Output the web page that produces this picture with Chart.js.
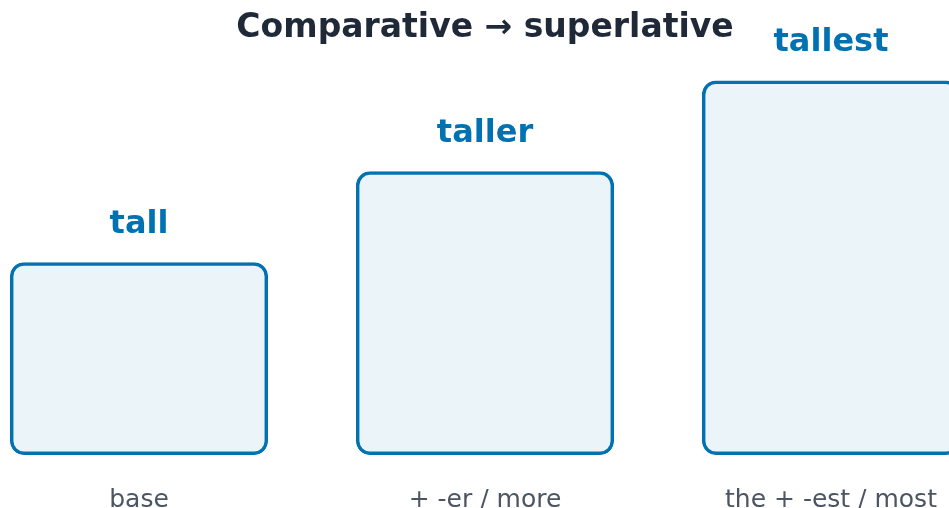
<!DOCTYPE html>
<html>
<head>
<meta charset="utf-8">
<script src="https://cdn.jsdelivr.net/npm/chart.js@4/dist/chart.umd.min.js"></script>
<style>
  html, body { margin: 0; padding: 0; background: #fff; overflow: hidden; }
  #wrap { position: absolute; left: -34px; top: 0; width: 1038px; height: 537px; }
</style>
</head>
<body>
<div id="wrap"><canvas id="formsChart"></canvas></div>
<script>
// word forms and their bar heights
const forms = ['tall', 'taller', 'tallest'];
const rules = ['base', '+ -er / more', 'the + -est / most'];
const heights = [2.12, 3.12, 4.12];

const blue = '#0072B2';
const font = "'DejaVu Sans', sans-serif";

// word above each bar
const formLabels = {
  id: 'formLabels',
  afterDatasetsDraw(chart) {
    const ctx = chart.ctx;
    const meta = chart.getDatasetMeta(0);
    ctx.save();
    ctx.fillStyle = blue;
    ctx.font = 'bold 32px ' + font;
    ctx.textAlign = 'center';
    ctx.textBaseline = 'middle';
    meta.data.forEach((bar, i) => {
      ctx.fillText(forms[i], bar.x, bar.y - 38);
    });
    ctx.restore();
  }
};

const ctx1 = document.getElementById('formsChart').getContext('2d');
new Chart(ctx1, {
  type: 'bar',
  data: {
    labels: rules,
    datasets: [{
      data: heights,
      backgroundColor: 'rgba(0, 114, 178, 0.08)',
      borderColor: blue,
      borderWidth: 3.5,
      borderSkipped: false,
      borderRadius: 14,
      categoryPercentage: 1,
      barPercentage: 0.746
    }]
  },
  options: {
    responsive: true,
    maintainAspectRatio: false,
    animation: false,
    layout: { padding: 0 },
    plugins: {
      legend: { display: false },
      tooltip: { enabled: false },
      title: {
        display: true,
        text: 'Comparative → superlative',
        color: '#1f2937',
        font: { family: font, size: 33, weight: 'bold' },
        padding: { top: 9, bottom: 0 }
      }
    },
    scales: {
      x: {
        grid: { display: false },
        border: { display: false },
        ticks: {
          color: '#4b5563',
          font: { family: font, size: 25 },
          padding: 22
        }
      },
      y: {
        display: false,
        min: 0,
        max: 4.47
      }
    }
  },
  plugins: [formLabels]
});
</script>
</body>
</html>
